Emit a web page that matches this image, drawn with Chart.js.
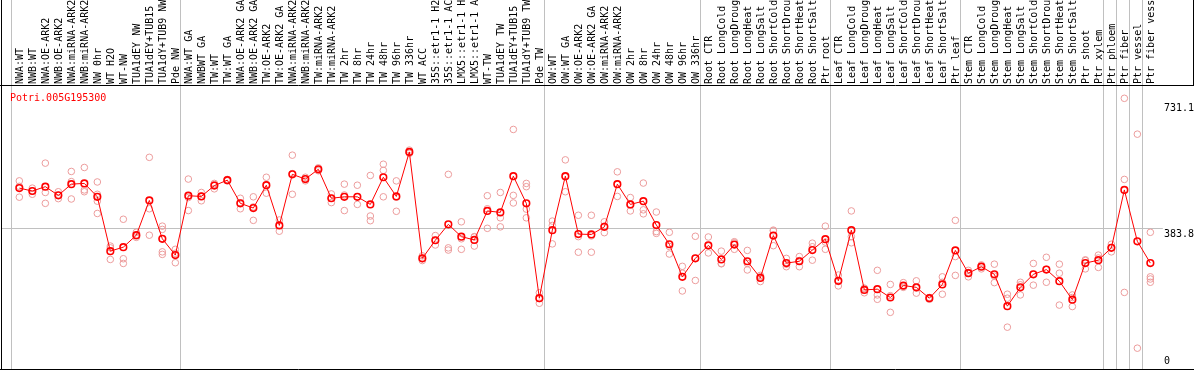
<!DOCTYPE html>
<html>
<head>
<meta charset="utf-8">
<script src="https://cdn.jsdelivr.net/npm/chart.js@4.4.1/dist/chart.umd.min.js"></script>
<style>
    html, body { margin: 0; padding: 0; background: #fff; }
    canvas { display: block; }
</style>
</head>
<body>
<canvas id="exprChart" width="1194" height="370"></canvas>
<script>
const geneId = 'Potri.005G195300'

// Sample names, left to right
const categories = [
    'NWA:WT', 'NWB:WT', 'NWA:OE-ARK2', 'NWB:OE-ARK2', 'NWA:miRNA-ARK2', 'NWB:miRNA-ARK2',
    'NW 0hr', 'WT H2O', 'WT-NW', 'TUA1dEY NW', 'TUA1dEY+TUB15 NW', 'TUA1dY+TUB9 NW', 'Pde NW',
    'NWA:WT GA', 'NWBWT GA', 'TW:WT', 'TW:WT GA', 'NWA:OE-ARK2 GA', 'NWB:OE-ARK2 GA',
    'TW:OE-ARK2', 'TW:OE-ARK2 GA', 'NWA:miRNA-ARK2', 'NWB:miRNA-ARK2', 'TW:miRNA-ARK2', 'TW:miRNA-ARK2',
    'TW 2hr', 'TW 8hr', 'TW 24hr', 'TW 48hr', 'TW 96hr', 'TW 336hr', 'WT ACC',
    '35S::etr1-1 H2O', '35S::etr1-1 ACC', 'LMX5::etr1-1 H2O', 'LMX5::etr1-1 ACC',
    'WT-TW', 'TUA1dEY TW', 'TUA1dEY+TUB15 TW', 'TUA1dY+TUB9 TW', 'Pde TW',
    'OW:WT', 'OW:WT GA', 'OW:OE-ARK2', 'OW:OE-ARK2 GA', 'OW:miRNA-ARK2', 'OW:miRNA-ARK2',
    'OW 2hr', 'OW 8hr', 'OW 24hr', 'OW 48hr', 'OW 96hr', 'OW 336hr',
    'Root CTR', 'Root LongCold', 'Root LongDrought', 'Root LongHeat', 'Root LongSalt',
    'Root ShortCold', 'Root ShortDrought', 'Root ShortHeat', 'Root ShortSalt', 'Ptr root',
    'Leaf CTR', 'Leaf LongCold', 'Leaf LongDrought', 'Leaf LongHeat', 'Leaf LongSalt',
    'Leaf ShortCold', 'Leaf ShortDrought', 'Leaf ShortHeat', 'Leaf ShortSalt', 'Ptr leaf',
    'Stem CTR', 'Stem LongCold', 'Stem LongDrought', 'Stem LongHeat', 'Stem LongSalt',
    'Stem ShortCold', 'Stem ShortDrought', 'Stem ShortHeat', 'Stem ShortSalt', 'Ptr shoot', 'Ptr xylem',
    'Ptr phloem', 'Ptr fiber', 'Ptr vessel', 'Ptr fiber vessel'
]

// first sample of each group (a grey line is drawn before it)
const groupStarts = [0, 13, 41, 53, 63, 73, 84, 85, 86, 87]

// mean expression per sample
const means = [
    494, 486, 498, 474, 505, 507, 470, 320, 331, 364,
    460, 354, 309, 473, 471, 501, 516, 452, 439, 502,
    391, 532, 519, 546, 466, 470, 470, 449, 524, 471,
    594, 300, 350, 394, 360, 351, 431, 427, 527, 452,
    190, 378, 527, 367, 366, 387, 505, 449, 458, 392,
    339, 249, 300, 336, 297, 338, 292, 246, 363, 287,
    292, 323, 353, 238, 378, 213, 215, 192, 225, 220,
    190, 228, 322, 259, 277, 256, 168, 220, 256, 269,
    237, 186, 287, 295, 329, 489, 347, 287
]

// single replicates per sample
const replicates = [
    [514, 499, 469], [494, 486, 477], [563, 482, 452], [484, 474, 465], [540, 512, 464],
    [551, 489, 484], [511, 477, 458, 424], [334, 329, 297], [408, 299, 286], [372, 362, 358],
    [579, 437, 364], [389, 380, 354, 318, 311], [325, 314, 288], [519, 468, 432], [482, 472, 459],
    [507, 504, 492], [518, 516, 514], [466, 453, 437], [470, 442, 405], [524, 502, 480],
    [406, 392, 375], [585, 534, 477], [524, 519, 514], [550, 546, 542], [478, 466, 454],
    [505, 475, 432], [502, 470, 449], [529, 417, 404], [560, 543, 470], [514, 469, 430],
    [599, 593, 590], [307, 299, 294], [363, 350, 337], [532, 329, 323], [401, 354, 325],
    [360, 359, 334], [473, 437, 383], [482, 412, 387], [656, 474, 453], [507, 498, 436, 412],
    [205, 189, 176], [403, 391, 340], [572, 525, 484], [419, 360, 317], [419, 362, 317],
    [401, 389, 371], [539, 505, 471], [468, 448, 431], [508, 434, 423], [428, 374, 369],
    [372, 333, 312], [278, 259, 210], [361, 300, 239], [359, 334, 315], [320, 286, 285],
    [346, 343, 325], [322, 286, 268], [253, 249, 236], [378, 376, 335], [300, 284, 277],
    [305, 294, 277], [342, 332, 295], [389, 345, 325], [254, 236, 224], [431, 360, 343],
    [218, 216, 205], [267, 199, 187], [228, 197, 151], [233, 222, 220], [238, 218, 204],
    [192, 191, 187], [249, 234, 201], [405, 305, 253], [267, 261, 249], [282, 278, 271],
    [284, 251, 233], [201, 190, 110], [234, 227, 199], [286, 256, 226], [303, 270, 234],
    [284, 259, 171], [199, 192, 167], [296, 294, 271], [309, 301, 275], [339, 330, 318],
    [742, 518, 206], [643, 52], [372, 249, 243, 234]
]

const yTicks = [0, 383.8, 731.1]

// axis ranges
const X_MIN = -1.41
const X_MAX = 90.28
const Y_MIN = -5.5
const Y_MAX = 776

const HEADER_H = 86
const GRID = '#c0c0c0'
const MONO = { family: 'DejaVu Sans Mono', size: 10 }

// build points
const meanPoints = means.map((v, i) => ({ x: i, y: v }))
const repPoints = []
replicates.forEach((reps, i) => {
    reps.forEach(v => repPoints.push({ x: i, y: v }))
})
const separators = groupStarts.map(i => i - 0.62)

// scales should not ask the layout for extra room round the chart area
function noPadding(scale) {
    scale.paddingTop = 0
    scale.paddingBottom = 0
    scale.paddingLeft = 0
    scale.paddingRight = 0
}

// frame and gene name
const framePlugin = {
    id: 'frame',
    beforeDatasetsDraw(chart) {
        const { ctx, chartArea, width, height } = chart
        ctx.save()
        ctx.strokeStyle = '#000'
        ctx.lineWidth = 1
        ctx.beginPath()
        ctx.moveTo(1.5, 0)
        ctx.lineTo(1.5, height)
        ctx.moveTo(0, chartArea.top - 0.5)
        ctx.lineTo(width, chartArea.top - 0.5)
        ctx.moveTo(0, chartArea.bottom + 0.5)
        ctx.lineTo(width, chartArea.bottom + 0.5)
        ctx.moveTo(width - 0.5, 0)
        ctx.lineTo(width - 0.5, chartArea.top)
        ctx.stroke()

        ctx.fillStyle = '#ff0000'
        ctx.font = '10px "DejaVu Sans Mono"'
        ctx.textBaseline = 'alphabetic'
        ctx.fillText(geneId, chartArea.left + 9, chartArea.top + 15)
        ctx.restore()
    }
}

const ctx = document.getElementById('exprChart')

new Chart(ctx, {
    type: 'scatter',
    data: {
        datasets: [{
            label: 'mean',
            data: meanPoints,
            showLine: true,
            order: 0,
            borderColor: '#ff0000',
            borderWidth: 1,
            pointRadius: 3.3,
            pointBorderWidth: 1.6,
            pointBorderColor: '#ff0000',
            pointBackgroundColor: 'rgba(0,0,0,0)',
            tension: 0
        }, {
            label: 'replicates',
            data: repPoints,
            showLine: false,
            order: 1,
            pointRadius: 3.3,
            pointBorderWidth: 1,
            pointBorderColor: '#ec9c9c',
            pointBackgroundColor: 'rgba(0,0,0,0)'
        }]
    },
    options: {
        responsive: false,
        animation: false,
        events: [],
        layout: { autoPadding: false, padding: { left: 1, right: 1, bottom: 1 } },
        plugins: {
            legend: { display: false },
            tooltip: { enabled: false }
        },
        scales: {
            x: {
                type: 'linear',
                position: 'bottom',
                min: X_MIN,
                max: X_MAX,
                display: false
            },
            xNames: {
                type: 'linear',
                position: 'top',
                weight: 10,
                min: X_MIN,
                max: X_MAX,
                afterBuildTicks: (scale) => {
                    scale.ticks = categories.map((c, i) => ({ value: i }))
                },
                afterFit: (scale) => {
                    scale.height = HEADER_H
                    noPadding(scale)
                },
                grid: { display: false, drawTicks: false },
                border: { display: false },
                ticks: {
                    autoSkip: false,
                    minRotation: 90,
                    maxRotation: 90,
                    padding: 2,
                    labelOffset: 13,
                    color: '#000',
                    font: MONO,
                    callback: (value) => categories[value]
                }
            },
            xGroups: {
                type: 'linear',
                position: 'top',
                weight: 0,
                min: X_MIN,
                max: X_MAX,
                afterBuildTicks: (scale) => {
                    scale.ticks = separators.map(v => ({ value: v }))
                },
                afterFit: (scale) => {
                    scale.height = 0
                    noPadding(scale)
                },
                grid: { color: GRID, lineWidth: 1, tickLength: HEADER_H, drawOnChartArea: true },
                border: { display: false },
                ticks: { display: false }
            },
            y: {
                type: 'linear',
                position: 'right',
                min: Y_MIN,
                max: Y_MAX,
                afterBuildTicks: (scale) => {
                    scale.ticks = yTicks.map(v => ({ value: v }))
                },
                afterFit: (scale) => {
                    scale.width = 0
                    noPadding(scale)
                },
                grid: {
                    drawTicks: false,
                    color: (c) => c.index === 1 ? GRID : 'rgba(0,0,0,0)'
                },
                border: { display: false },
                ticks: {
                    autoSkip: false,
                    mirror: true,
                    crossAlign: 'far',
                    padding: 1,
                    color: '#000',
                    font: MONO,
                    // only the mid label needs to hide the grid line behind it
                    showLabelBackdrop: (c) => c.index !== 0,
                    backdropColor: '#fff',
                    backdropPadding: 1,
                    // zero sits above its line, the others below
                    callback: (value) => value === 0 ? ['0', ''] : ['', String(value)]
                }
            }
        }
    },
    plugins: [framePlugin]
});
</script>
</body>
</html>
